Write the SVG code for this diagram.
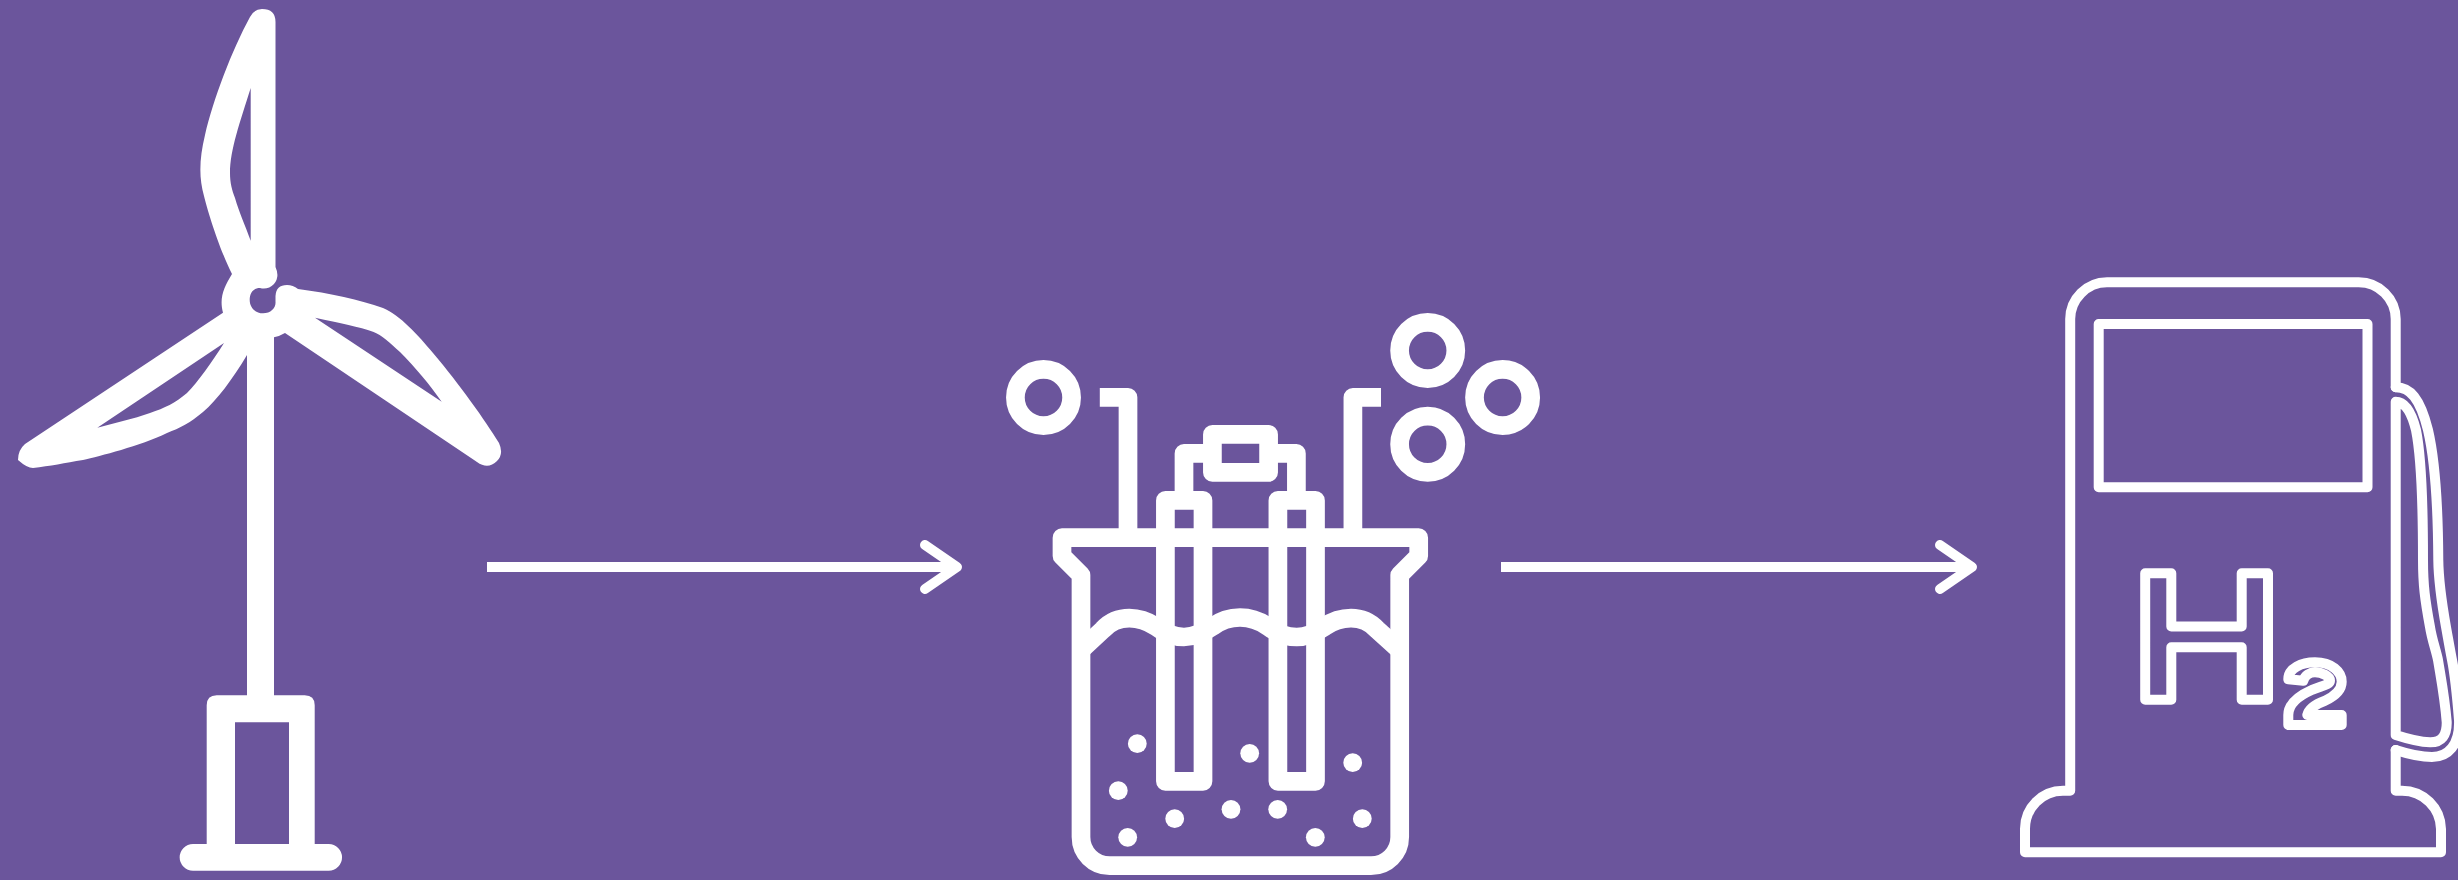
<svg xmlns="http://www.w3.org/2000/svg" width="2458" height="880" viewBox="0 0 2458 880">
<style>
.w{fill:#fff;fill-rule:evenodd}
.l{fill:none;stroke:#fff;stroke-linejoin:round}
.e{stroke-width:18.7}
.p{stroke-width:10}
.d{fill:#fff}
.a{fill:none;stroke:#fff;stroke-width:10;stroke-linejoin:round}
.h{fill:none;stroke:#fff;stroke-width:10;stroke-linecap:round;stroke-linejoin:round}
</style>
<defs>
<path id="ring" class="l e" d="M28.1,0a28.1,28.1 0 0 1 -8.23,19.87a28.1,28.1 0 0 1 -19.87,8.23a28.1,28.1 0 0 1 -19.87,-8.23a28.1,28.1 0 0 1 -8.23,-19.87a28.1,28.1 0 0 1 8.23,-19.87a28.1,28.1 0 0 1 19.87,-8.23a28.1,28.1 0 0 1 19.87,8.23a28.1,28.1 0 0 1 8.23,19.87Z"/>
</defs>
<rect width="2458" height="880" fill="#6b559c"/>
<g id="wind-turbine">
<path class="w" d="M232,274 C219,248 208,212 204,196 C199,178 199,160 205,135 C213,100 232,50 250,17 Q254,9 262,9 Q275.5,9 275.5,22 L275.5,267 Q280,277 274,284 Q268,290 260,288 C253,288 249.7,293 249.7,300 C249.7,308 256,313.3 263,313.3 C271,313.3 276,308 275.5,302 L275.5,296 Q276,285 287,285 Q293,285 298,289 C330,293 360,300 383,308 C400,315 418,335 433,353 C460,385 485,420 499,443 Q504,454 497,461 Q488,470 477,462 L285,333 Q280,336 274,337.3 L274,695.3 L304.7,695.3 Q314.7,695.3 314.7,705.3 L314.7,844 L328.7,844 A13.3,13.3 0 0 1 328.7,870.7 L193,870.7 A13.3,13.3 0 0 1 193,844 L206.7,844 L206.7,705.3 Q206.7,695.3 216.7,695.3 L247,695.3 L247,355 C232,380 217,400 203,412 C190,423 180,428 167,433 C140,446 100,456 83,460 C65,463 50,466 33,468 Q27,468 18,460 Q18,450 25,444 L223,312.7 C219,298 224,287 232,274 Z M250.7,88 C240,122 230,150 230,173 C230,183 232,190 235,198 C239,212 245,225 250.7,240.7 Z M315,317.7 C340,323 360,327 373,331.7 C382,335 390,343 400,352 C415,367 430,385 441.7,401.7 Z M224,343 C212,362 198,382 187,393 C175,403 165,408 150,413 C133,419 115,423 97.3,427.7 Z M235,722.3 H289 V844 H235 Z"/>
</g>
<g id="electrolyzer">
<use href="#ring" x="1043.5" y="397.5"/>
<use href="#ring" x="1427.7" y="350.5"/>
<use href="#ring" x="1502.6" y="397.5"/>
<use href="#ring" x="1427.7" y="444.2"/>
<path class="l e" d="M1099.8,397.3H1128V537.7"/>
<path class="l e" d="M1381,397.3H1352.9V537.7"/>
<rect class="l e" x="1212.4" y="434.4" width="56.2" height="38"/>
<path class="l e" d="M1184,500.4V453.4H1212.4"/>
<path class="l e" d="M1296.4,500.4V453.4H1268.6"/>
<path class="l e" d="M1165.4,781.3V500.4H1203V781.3Z"/>
<path class="l e" d="M1277.9,781.3V500.4H1315.5V781.3Z"/>
<path class="l e" d="M1062,537.7H1418.7V556L1399.7,575V837A28.7,28.7 0 0 1 1391.3,857.3A28.7,28.7 0 0 1 1371,865.7H1110A28.7,28.7 0 0 1 1089.4,857.3A28.7,28.7 0 0 1 1081,837V575L1062,556Z"/>
<path class="l e" d="M1081,650L1103,629.5C1110,622 1119,618.2 1129.3,618.2C1140,618.2 1148,621.5 1156,626.7C1164,633 1174,637 1184,637C1194,637 1204,632.5 1212.3,626.7C1220,621 1229,617.5 1240,617.5C1251,617.5 1260,621 1268.3,626.7C1276,632.5 1286,637 1296.7,637C1307,637 1316,632.5 1324.7,626.7C1332,621.5 1340,618.2 1351,618.2C1361,618.2 1370,622 1377,629.5L1399.7,650"/>
<circle class="d" cx="1137.3" cy="743.7" r="9.4"/>
<circle class="d" cx="1249.7" cy="753.3" r="9.4"/>
<circle class="d" cx="1352.7" cy="762.7" r="9.4"/>
<circle class="d" cx="1118.3" cy="790.7" r="9.4"/>
<circle class="d" cx="1174.7" cy="818.7" r="9.4"/>
<circle class="d" cx="1231" cy="809.3" r="9.4"/>
<circle class="d" cx="1277.7" cy="809.3" r="9.4"/>
<circle class="d" cx="1362.3" cy="818.7" r="9.4"/>
<circle class="d" cx="1127.7" cy="837.3" r="9.4"/>
<circle class="d" cx="1315.3" cy="837.3" r="9.4"/>
</g>
<g id="hydrogen-pump">
<path class="l p" stroke-linecap="round" d="M2395.7,387.3V319A37,37 0 0 0 2358.7,282.3H2107A37,37 0 0 0 2070.2,319V790.7H2063A38,38 0 0 0 2025,829V852.3H2441V829A39,39 0 0 0 2402,790.7H2395.7V750"/>
<rect class="l p" x="2098.7" y="324" width="268.8" height="163.3"/>
<path class="l p" stroke-linecap="round" d="M2395.7,387.3C2410,387.3 2420,398 2428,430C2435,460 2438,510 2438.3,560C2438.5,577 2440,593 2446,627C2448,638 2450,650 2452,660C2455,675 2457,695 2459,720C2460,745 2448,757 2432,757C2420,757 2408,754 2395.7,750"/>
<path class="l p" d="M2395.7,401.7V735C2408,739 2420,742 2430,742.3C2442,742.5 2447,735 2446.7,722C2445,700 2443,690 2438,660C2436,650 2432,640 2430,627C2425,600 2423,585 2423,560C2423,510 2421,455 2416,430C2411,410 2404,401.7 2395.7,401.7Z"/>
<path class="l p" d="M2145.2,573.3H2171.3V626.5H2241.7V573.3H2268V699.8H2241.7V647.3H2171.3V699.8H2145.2Z"/>
<path class="l p" d="M2288.3,679.3C2288.3,668 2301.7,662.3 2315,662.3C2331.7,662.3 2341.7,671.7 2341.7,681.7C2341.7,690 2335,696 2325,700.7C2316,704 2309,708 2307.3,715H2341.7V725H2288.3V715C2288.3,705 2296.7,696.7 2311.7,690C2320,686 2330,685 2330,680.7C2330,676 2321.7,672.3 2315,672.3C2310,672.3 2305,675 2303.3,680.7Z"/>
</g>
<g id="connectors">
<path class="a" d="M487,567H957"/>
<path class="h" d="M925,545L957,567L925,589"/>
<path class="a" d="M1501,567H1972"/>
<path class="h" d="M1940,545L1972,567L1940,589"/>
</g>
</svg>
